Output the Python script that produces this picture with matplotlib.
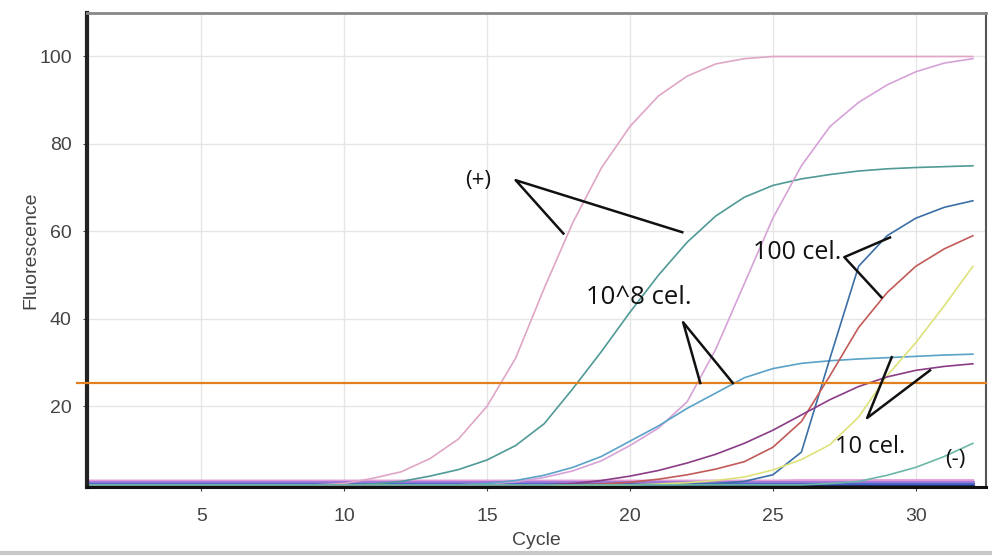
import matplotlib
matplotlib.use("Agg")
import matplotlib.pyplot as plt
from matplotlib.lines import Line2D

# cycles 1..32
cycles = list(range(1, 33))

# amplification curves (fluorescence per cycle)
pos_a = [2.0]*9 + [2.3, 3.5, 5.0, 8.0, 12.5, 20.0, 31.0, 47.0, 62.0, 74.5, 84.0, 91.0,
                   95.5, 98.3, 99.5, 100, 100, 100, 100, 100, 100, 100, 100]
pos_b = [2.0]*10 + [2.2, 2.8, 4.0, 5.5, 7.7, 11.0, 16.0, 24.0, 32.5, 41.5, 50.0, 57.5,
                    63.5, 67.8, 70.5, 72.0, 73.0, 73.8, 74.3, 74.6, 74.8, 75.0]
e8_a = [2.0]*14 + [2.2, 2.7, 3.7, 5.2, 7.5, 11.0, 15.0, 21.0, 33.0, 48.0, 63.0, 75.0,
                   84.0, 89.5, 93.5, 96.5, 98.5, 99.5]
e8_b = [2.0]*14 + [2.3, 3.0, 4.2, 6.0, 8.5, 12.0, 15.5, 19.5, 23.0, 26.5, 28.6, 29.8,
                   30.4, 30.8, 31.1, 31.4, 31.7, 31.9]
c100_a = [2.0]*21 + [2.1, 2.3, 2.8, 4.3, 9.5, 31.0, 52.0, 59.0, 63.0, 65.5, 67.0]
c100_b = [2.0]*18 + [2.2, 2.6, 3.3, 4.3, 5.6, 7.3, 10.6, 16.5, 27.0, 38.0, 46.0, 52.0,
                     56.0, 59.0]
c10_a = [2.0]*20 + [2.2, 2.5, 3.0, 3.8, 5.4, 7.8, 11.2, 17.5, 27.0, 34.5, 43.0, 52.0]
c10_b = [2.0]*17 + [2.3, 3.0, 4.0, 5.3, 7.0, 9.0, 11.5, 14.5, 18.0, 21.5, 24.5, 26.7,
                    28.2, 29.1, 29.7]
neg = [2.0]*26 + [2.3, 2.8, 4.2, 6.0, 8.5, 11.5]
flat_a = [1.7]*32
flat_b = [2.3]*32
flat_c = [2.7]*32
flat_d = [2.9]*25 + [3.0, 3.0, 3.0, 3.0, 3.0, 3.0, 3.0]

baselines = [(flat_d, "#e39ad8"), (flat_c, "#9a78d8"), (flat_b, "#4463c8"), (flat_a, "#1c2b55")]
series = [
    (pos_a, "#dfa6c6"), (pos_b, "#4f9a96"), (e8_a, "#d6a2d8"), (e8_b, "#5aa2c8"),
    (c100_a, "#3a6fa6"), (c100_b, "#c25a58"), (c10_a, "#dde27a"), (c10_b, "#8a3c86"),
    (neg, "#6cb8a8"),
]

threshold = 25.3

# label text and pointer lines (cycle, fluorescence)
labels = ["(+)", "10^8 cel.", "100 cel.", "10 cel.", "(-)"]
label_pos = [(14.7, 71.7), (20.3, 44.9), (25.85, 55.2), (28.4, 10.6), (31.4, 7.7)]
label_size = [16, 18.5, 18, 17, 16]
pointers = [
    [(17.67, 59.5), (16.0, 71.7), (21.83, 59.8)],
    [(22.46, 25.3), (21.86, 39.2), (23.6, 25.3)],
    [(29.1, 58.6), (27.5, 54.1), (28.8, 44.9)],
    [(29.16, 31.2), (28.3, 17.3), (30.5, 28.2)],
]

fig = plt.figure(figsize=(9.92, 5.56), dpi=100)
ax = fig.add_axes([0.0877, 0.124, 0.906, 0.853])

for vals, col in baselines:
    ax.plot(cycles, vals, color=col, lw=2)
for vals, col in series:
    ax.plot(cycles, vals, color=col, lw=1.2)

ax.axhline(threshold, xmin=-0.011, xmax=1.0, color="#e0801e", lw=1.6, clip_on=False, zorder=5)

for pts in pointers:
    ax.plot([p[0] for p in pts], [p[1] for p in pts], color="#111111", lw=1.8, zorder=6)
for txt, (x, y), fs in zip(labels, label_pos, label_size):
    ax.text(x, y, txt, fontsize=fs, family="Open Sans", ha="center", va="center",
            color="#111111", zorder=7)

ax.set_xlim(1, 32.45)
ax.set_ylim(1.5, 110)
ax.set_xticks([5, 10, 15, 20, 25, 30])
ax.set_yticks([20, 40, 60, 80, 100])
ax.grid(True, color="#e6e6e6", lw=1)
ax.set_axisbelow(True)
ax.tick_params(labelsize=14, colors="#444444", length=3, width=0.8)
ax.tick_params(axis="x", pad=12)
ax.tick_params(axis="y", pad=8)
for lbl in ax.get_xticklabels() + ax.get_yticklabels():
    lbl.set_family("Liberation Sans")
ax.set_xlabel("Cycle", fontsize=14, color="#444444", labelpad=5, family="Liberation Sans")
ax.set_ylabel("Fluorescence", fontsize=14, color="#444444", labelpad=0, family="Liberation Sans")

ax.spines["left"].set_linewidth(3)
ax.spines["left"].set_color("#222222")
ax.spines["bottom"].set_linewidth(2.2)
ax.spines["bottom"].set_color("#111111")
ax.spines["top"].set_linewidth(2)
ax.spines["top"].set_color("#888888")
ax.spines["right"].set_linewidth(1.5)
ax.spines["right"].set_color("#555555")

fig.add_artist(Line2D([0, 1], [0.006, 0.006], transform=fig.transFigure, color="#c8c8c8", lw=3))

fig.savefig("out.png", dpi=100)
